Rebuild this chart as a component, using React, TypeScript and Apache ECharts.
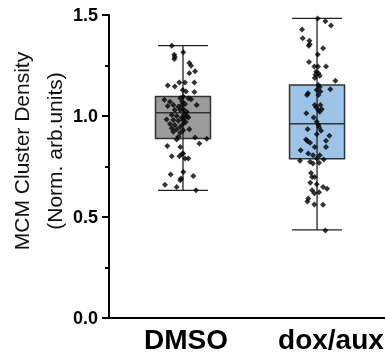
import React, { useEffect, useRef } from "react";
import * as echarts from "echarts";

const categories = ["DMSO", "dox/aux"];
const boxColors = ["#9b9b9b", "#9dc3e6"];
// [min, Q1, median, Q3, max]
const boxStats = [
  [0.632, 0.889, 1.016, 1.097, 1.348],
  [0.436, 0.788, 0.962, 1.154, 1.483],
];
const yTicks = [0, 0.5, 1.0, 1.5];

const dmsoValues = [
  1.348, 1.315, 1.303, 1.292, 1.282, 1.262, 1.249, 1.212, 1.222, 1.166, 1.166, 1.166,
  1.151, 1.146, 1.129, 1.121, 1.119, 1.08, 1.071, 1.088, 1.096, 1.088, 1.083, 1.055,
  1.05, 1.046, 1.055, 1.06, 1.055, 1.03, 1.03, 1.033, 1.021, 1.005, 1.0, 0.993,
  0.993, 0.993, 0.983, 0.98, 0.977, 0.98, 0.96, 0.955, 0.947, 0.939, 0.934, 0.93,
  0.935, 0.922, 0.917, 0.897, 0.884, 0.894, 0.887, 0.864, 0.851, 0.847, 0.801, 0.801,
  0.811, 0.814, 0.79, 0.79, 0.723, 0.71, 0.703, 0.69, 0.682, 0.66, 0.648, 0.632,
  1.07, 1.01, 1.0, 0.97, 0.96,
];
const dmsoJitter = [
  -0.084, 0.002, -0.065, -0.061, -0.065, 0.047, 0.06, 0.047, 0.09, 0.085, 0.015, -0.027,
  -0.114, -0.061, -0.002, 0.022, 0.085, -0.139, -0.097, -0.02, 0.002, 0.04, 0.06, -0.072,
  -0.114, -0.035, -0.01, 0.015, 0.102, -0.061, -0.02, 0.002, 0.027, -0.084, -0.047, -0.01,
  0.015, 0.04, -0.122, -0.072, -0.035, 0.002, -0.097, -0.061, -0.02, -0.084, -0.047, 0.002,
  0.047, -0.072, -0.02, -0.035, -0.047, 0.09, 0.177, 0.122, -0.117, -0.02, -0.084, -0.027,
  -0.01, 0.002, 0.04, 0.015, 0.002, -0.092, 0.077, -0.015, -0.02, -0.134, -0.047, 0.097,
  -0.005, 0.01, 0.03, 0.02, 0.0,
];

const doxValues = [
  1.483, 1.469, 1.448, 1.428, 1.385, 1.373, 1.348, 1.355, 1.335, 1.305, 1.267, 1.245,
  1.245, 1.245, 1.219, 1.212, 1.204, 1.199, 1.188, 1.174, 1.154, 1.143, 1.133, 1.129,
  1.121, 1.113, 1.104, 1.104, 1.055, 1.055, 1.043, 1.03, 1.033, 1.013, 1.021, 0.993,
  0.972, 0.955, 0.944, 0.934, 0.927, 0.91, 0.902, 0.884, 0.867, 0.876, 0.877, 0.847,
  0.847, 0.831, 0.814, 0.806, 0.806, 0.79, 0.778, 0.773, 0.765, 0.768, 0.785, 0.718,
  0.698, 0.698, 0.67, 0.662, 0.648, 0.64, 0.632, 0.618, 0.623, 0.591, 0.577, 0.562,
  0.561, 0.433,
];
const doxJitter = [
  0.005, 0.062, 0.104, -0.112, -0.107, -0.057, -0.062, -0.055, 0.045, 0.005, -0.06, -0.02,
  0.007, 0.067, -0.007, 0.01, -0.012, 0.02, -0.017, 0.137, 0.01, 0.02, 0.099, -0.002,
  0.025, -0.067, -0.075, 0.01, -0.017, 0.025, -0.007, 0.01, 0.035, -0.08, 0.02, -0.025,
  -0.002, 0.01, 0.015, -0.07, 0.03, -0.002, 0.092, -0.082, -0.052, -0.072, 0.067, -0.017,
  0.067, -0.122, -0.065, -0.03, 0.02, -0.002, -0.127, -0.052, -0.03, 0.015, 0.05, -0.045,
  -0.037, -0.017, -0.05, -0.002, 0.045, 0.075, -0.037, -0.02, 0.015, -0.065, -0.072, -0.02,
  0.045, 0.062,
];

export default function App() {
  const ref = useRef<HTMLDivElement>(null);
  useEffect(() => {
    if (!ref.current) return;
    const chart = echarts.init(ref.current, null, { renderer: "svg" });
    const font = "Liberation Sans, Arial, Helvetica, sans-serif";
    const boxData = boxStats.map((s, i) => [i + 1, ...s]);
    const points = [
      ...dmsoValues.map((v, i) => [1 + dmsoJitter[i], v]),
      ...doxValues.map((v, i) => [2 + doxJitter[i], v]),
    ];
    chart.setOption({
      animation: false,
      grid: { left: 109, right: 0, top: 15, bottom: 38, containLabel: false },
      xAxis: {
        type: "value",
        min: 0.448,
        max: 2.507,
        axisLine: { show: true, onZero: false, lineStyle: { color: "#000", width: 2 } },
        axisTick: { show: false },
        axisLabel: { show: false },
        splitLine: { show: false },
      },
      yAxis: {
        type: "value",
        min: yTicks[0],
        max: yTicks[yTicks.length - 1],
        interval: 0.5,
        axisLine: { show: true, lineStyle: { color: "#000", width: 2 } },
        axisTick: { show: true, length: 7, lineStyle: { color: "#000", width: 2 } },
        minorTick: { show: true, splitNumber: 2, length: 4, lineStyle: { color: "#000", width: 2 } },
        axisLabel: {
          margin: 11,
          fontSize: 18,
          fontWeight: "bold",
          fontFamily: font,
          color: "#000",
          formatter: (v: number) => v.toFixed(1),
        },
        splitLine: { show: false },
      },
      graphic: [
        {
          type: "text",
          x: 38,
          y: 151,
          rotation: Math.PI / 2,
          style: {
            text: "MCM Cluster Density\n(Norm. arb.units)",
            fontSize: 21,
            lineHeight: 33,
            fontFamily: font,
            fill: "#111",
            align: "center",
            verticalAlign: "middle",
          },
        },
      ],
      series: [
        {
          type: "custom",
          z: 2,
          data: boxData,
          encode: { x: 0, y: [1, 2, 3, 4, 5] },
          renderItem: (params: any, api: any) => {
            const x = api.value(0);
            const idx = params.dataIndex;
            const pMin = api.coord([x, api.value(1)]);
            const pQ1 = api.coord([x, api.value(2)]);
            const pMed = api.coord([x, api.value(3)]);
            const pQ3 = api.coord([x, api.value(4)]);
            const pMax = api.coord([x, api.value(5)]);
            const p0 = api.coord([x, 0]);
            const cx = pMed[0];
            const bw = 55;
            const cw = 50;
            const lineStyle = { stroke: "#222", lineWidth: 1.3 };
            return {
              type: "group",
              children: [
                {
                  type: "rect",
                  shape: { x: cx - bw / 2, y: pQ3[1], width: bw, height: pQ1[1] - pQ3[1] },
                  style: { fill: boxColors[idx], stroke: "#333", lineWidth: 1.5 },
                },
                { type: "line", shape: { x1: cx, y1: pMax[1], x2: cx, y2: pMin[1] }, style: lineStyle },
                { type: "line", shape: { x1: cx - cw / 2, y1: pMax[1], x2: cx + cw / 2, y2: pMax[1] }, style: lineStyle },
                { type: "line", shape: { x1: cx - cw / 2, y1: pMin[1], x2: cx + cw / 2, y2: pMin[1] }, style: lineStyle },
                { type: "line", shape: { x1: cx - bw / 2, y1: pMed[1], x2: cx + bw / 2, y2: pMed[1] }, style: { stroke: "#333", lineWidth: 1.5 } },
                {
                  type: "text",
                  x: cx - 39,
                  y: p0[1] + 21,
                  style: {
                    text: categories[idx],
                    fontSize: 28,
                    fontWeight: "bold",
                    fontFamily: font,
                    fill: "#000",
                    align: "left",
                    verticalAlign: "middle",
                  },
                },
              ],
            };
          },
        },
        {
          type: "scatter",
          z: 3,
          data: points,
          symbol: "diamond",
          symbolSize: 6,
          itemStyle: { color: "#000" },
        },
      ],
    });
    return () => chart.dispose();
  }, []);
  return (
    <div
      ref={ref}
      style={{ position: "fixed", left: 0, top: 0, width: 385, height: 356 }}
    />
  );
}
